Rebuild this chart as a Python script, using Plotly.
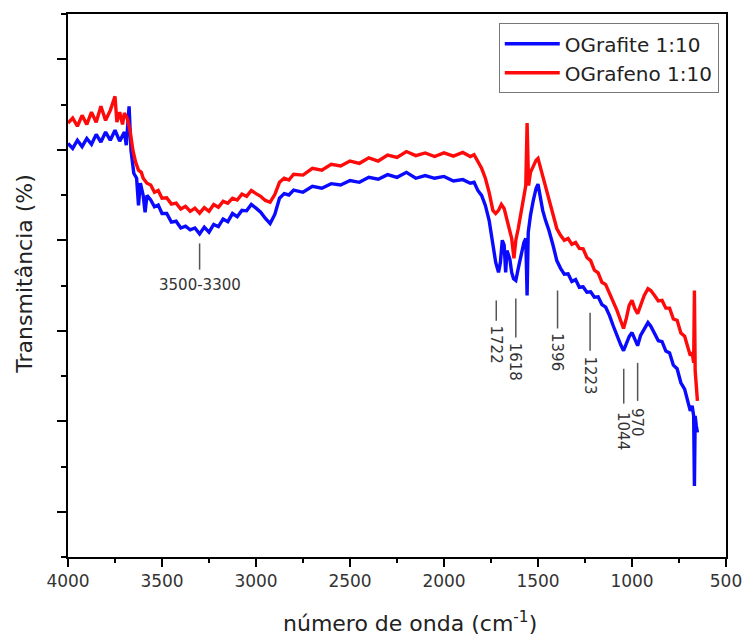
import plotly.graph_objects as go

# ---------------- data ----------------
wn_blue = [4000, 3975, 3950, 3925, 3900, 3875, 3850, 3825, 3800, 3775, 3750, 3725, 3700, 3690, 3675,
           3665, 3650, 3635, 3625, 3615, 3600, 3590, 3580, 3560, 3540, 3520, 3500, 3475, 3450, 3425,
           3400, 3375, 3350, 3325, 3300, 3275, 3250, 3225, 3200, 3175, 3150, 3125, 3100, 3075, 3050,
           3025, 3000, 2975, 2950, 2925, 2900, 2875, 2850, 2825, 2800, 2750, 2700, 2650, 2600, 2550,
           2500, 2450, 2400, 2350, 2300, 2250, 2200, 2150, 2100, 2050, 2000, 1950, 1900, 1860, 1840,
           1820, 1800, 1780, 1760, 1740, 1725, 1710, 1700, 1690, 1680, 1672, 1665, 1650, 1640, 1630,
           1618, 1605, 1590, 1575, 1565, 1558, 1552, 1540, 1525, 1510, 1500, 1490, 1475, 1460, 1442,
           1420, 1400, 1380, 1360, 1340, 1320, 1300, 1280, 1260, 1240, 1220, 1200, 1180, 1160, 1140,
           1120, 1100, 1080, 1060, 1045, 1030, 1015, 1000, 985, 970, 955, 935, 915, 900, 880,
           860, 840, 820, 800, 780, 760, 740, 720, 700, 690, 680, 672, 668, 664, 658, 652]
t_blue = [91.4, 90.3, 92.1, 90.7, 92.5, 91.2, 93.4, 91.7, 93.9, 92.1, 94.3, 91.9, 93.9, 91.0, 99.6,
          89.9, 84.8, 83.7, 77.7, 82.6, 79.9, 76.2, 79.9, 78.9, 77.4, 77.8, 75.9, 75.9, 74.0, 74.2,
          72.7, 73.1, 72.3, 72.7, 71.4, 72.9, 71.8, 73.5, 73.0, 74.7, 74.1, 75.9, 75.2, 76.6, 76.5,
          77.9, 77.1, 76.2, 74.8, 73.7, 75.7, 79.3, 80.3, 80.0, 81.1, 80.6, 81.9, 81.5, 82.5, 82.2,
          83.2, 82.8, 83.9, 83.5, 84.5, 83.9, 85.0, 83.7, 84.3, 83.7, 84.1, 83.1, 83.4, 82.6, 82.8,
          81.0, 79.9, 77.7, 74.4, 68.9, 65.1, 62.9, 65.1, 70.0, 68.9, 62.9, 67.7, 65.9, 62.9, 61.5,
          61.1, 63.8, 66.6, 69.5, 70.4, 57.8, 71.7, 75.5, 78.8, 81.5, 82.4, 79.9, 76.6, 74.4, 72.2,
          68.9, 65.5, 63.8, 62.5, 62.6, 60.9, 61.3, 59.6, 59.7, 58.5, 58.6, 57.4, 57.5, 55.8, 55.2,
          53.4, 51.1, 48.9, 46.9, 45.6, 47.2, 48.7, 49.6, 48.3, 46.7, 48.9, 50.5, 51.8, 51.0, 49.4,
          47.8, 47.6, 45.5, 45.1, 42.4, 41.6, 38.5, 37.1, 34.1, 32.3, 33.4, 31.2, 15.7, 31.2, 29.0, 27.5]

wn_red = [4000, 3975, 3950, 3925, 3900, 3875, 3850, 3825, 3800, 3775, 3750, 3740, 3725, 3710, 3700,
          3685, 3670, 3655, 3640, 3625, 3610, 3600, 3580, 3560, 3540, 3520, 3500, 3475, 3450, 3425,
          3400, 3375, 3350, 3325, 3300, 3275, 3250, 3225, 3200, 3175, 3150, 3125, 3100, 3075, 3050,
          3025, 3000, 2975, 2950, 2925, 2900, 2875, 2850, 2825, 2800, 2750, 2700, 2650, 2600, 2550,
          2500, 2450, 2400, 2350, 2300, 2250, 2200, 2150, 2100, 2050, 2000, 1950, 1900, 1860, 1840,
          1820, 1800, 1780, 1760, 1740, 1725, 1710, 1695, 1680, 1665, 1650, 1640, 1628, 1618, 1605,
          1590, 1575, 1565, 1558, 1550, 1540, 1525, 1510, 1500, 1490, 1475, 1460, 1442, 1420, 1400,
          1380, 1360, 1340, 1320, 1300, 1280, 1260, 1240, 1220, 1200, 1180, 1160, 1140, 1120, 1100,
          1080, 1060, 1045, 1030, 1015, 1000, 985, 970, 955, 935, 915, 900, 880, 860, 840,
          820, 800, 780, 760, 740, 720, 700, 690, 680, 672, 668, 664, 658, 652]
t_red = [95.9, 97.0, 95.2, 97.6, 95.6, 98.3, 96.1, 99.6, 96.5, 98.7, 101.8, 96.1, 98.3, 95.6, 98.1,
         97.0, 94.3, 89.9, 87.2, 85.5, 85.0, 83.7, 82.6, 82.2, 80.6, 81.0, 79.3, 79.4, 78.0, 78.2,
         76.9, 77.5, 76.4, 77.1, 76.0, 77.2, 76.4, 77.9, 77.3, 78.6, 78.2, 79.3, 78.9, 80.2, 79.7,
         81.0, 80.3, 79.7, 78.8, 78.4, 80.1, 82.8, 83.7, 83.3, 84.6, 84.4, 85.9, 85.5, 86.8, 86.4,
         87.5, 87.0, 88.2, 87.5, 88.8, 88.3, 89.6, 88.7, 89.3, 88.5, 89.3, 88.6, 89.4, 88.5, 88.9,
         87.2, 85.9, 83.7, 80.6, 76.6, 75.9, 76.6, 77.9, 77.0, 74.4, 72.2, 70.4, 66.0, 70.0, 72.6,
         76.6, 79.9, 82.1, 95.9, 82.1, 85.0, 86.6, 87.7, 88.1, 86.6, 83.7, 81.5, 78.8, 75.5, 72.6,
         71.1, 70.0, 70.4, 69.1, 69.5, 68.2, 68.1, 66.2, 65.5, 63.4, 62.8, 60.7, 60.2, 58.4, 56.7,
         54.5, 52.2, 50.5, 52.8, 55.6, 56.7, 54.9, 53.8, 55.6, 57.8, 59.3, 58.9, 57.8, 56.6, 56.7,
         55.0, 55.0, 52.6, 52.3, 49.5, 48.8, 46.3, 44.5, 45.2, 42.9, 58.9, 41.2, 37.9, 34.5]

series_names = ["OGrafite 1:10", "OGrafeno 1:10"]
series_colors = ["#0a0aff", "#ff0a0a"]

# band labels: text, wavenumber, line top, line bottom, text centre, angle
band_labels = ["3500-3300", "1722", "1618", "1396", "1223", "1044", "970"]
band_x = [3300, 1722, 1618, 1396, 1223, 1044, 970]
band_line_top = [69.3, 56.7, 57.1, 58.9, 54.0, 41.6, 42.9]
band_line_bot = [63.5, 52.2, 48.5, 50.5, 45.6, 33.9, 34.5]
band_text_y = [60.2, 46.9, 43.2, 45.4, 40.1, 27.9, 29.7]
band_angle = [0, 90, 90, 90, 90, 90, 90]

x_ticks = [4000, 3500, 3000, 2500, 2000, 1500, 1000, 500]
x_title = "número de onda (cm<sup>-1</sup>)"
y_title = "Transmitância (%)"

FONT = "DejaVu Sans, Liberation Sans, Arial, sans-serif"

fig = go.Figure()
for wn, t, name, col in [(wn_blue, t_blue, series_names[0], series_colors[0]),
                         (wn_red, t_red, series_names[1], series_colors[1])]:
    fig.add_trace(go.Scatter(x=wn, y=t, mode="lines", name=name,
                             line=dict(color=col, width=3.4)))

for lab, x, y0, y1, ty, ang in zip(band_labels, band_x, band_line_top, band_line_bot,
                                   band_text_y, band_angle):
    fig.add_shape(type="line", x0=x, x1=x, y0=y0, y1=y1, xref="x", yref="y",
                  line=dict(color="#555555", width=1.5))
    fig.add_annotation(x=x, y=ty, xref="x", yref="y", text=lab, showarrow=False,
                       textangle=ang, xanchor="center", yanchor="middle",
                       font=dict(family=FONT, size=15, color="#333333"))

# axis titles placed as paper annotations (slightly off-centre as in the reference)
fig.add_annotation(x=0.52, y=0, xref="paper", yref="paper", yshift=-65,
                   text=x_title, showarrow=False, xanchor="center", yanchor="middle",
                   font=dict(family=FONT, size=22, color="#222222"))
fig.add_annotation(x=0, y=0.52, xref="paper", yref="paper", xshift=-43,
                   text=y_title, showarrow=False, textangle=-90,
                   xanchor="center", yanchor="middle",
                   font=dict(family=FONT, size=22, color="#222222"))

fig.update_layout(
    width=754, height=641,
    margin=dict(l=68, r=17, t=14, b=84),
    paper_bgcolor="white", plot_bgcolor="white",
    font=dict(family=FONT, color="#333333"),
    showlegend=True,
    legend=dict(x=0.989, y=0.983, xanchor="right", yanchor="top",
                bgcolor="white", bordercolor="#777777", borderwidth=1,
                font=dict(family=FONT, size=20, color="#222222"),
                tracegroupgap=0, itemwidth=55),
)

fig.update_xaxes(
    range=[4000, 500], tickvals=x_ticks, ticktext=[str(v) for v in x_ticks],
    showgrid=False, zeroline=False,
    showline=True, linecolor="black", linewidth=2, mirror=True,
    ticks="outside", ticklen=8, tickwidth=2, tickcolor="black",
    tickfont=dict(family=FONT, size=17, color="#333333"),
    minor=dict(ticks="outside", ticklen=4, tickwidth=2, tickcolor="black", dtick=250, tick0=500),
)
fig.update_yaxes(
    range=[0, 120], tick0=10, dtick=20, showticklabels=False,
    showgrid=False, zeroline=False,
    showline=True, linecolor="black", linewidth=2, mirror=True,
    ticks="outside", ticklen=9, tickwidth=2, tickcolor="black",
    minor=dict(ticks="outside", ticklen=5, tickwidth=2, tickcolor="black", dtick=20, tick0=0),
)

fig.write_html("out.html")
